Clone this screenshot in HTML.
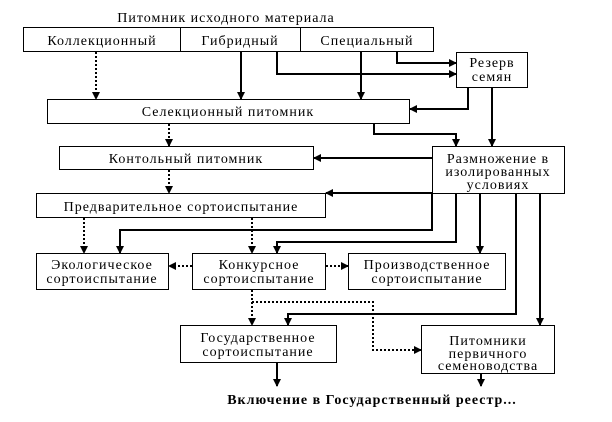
<!DOCTYPE html><html><head><meta charset="utf-8"><style>body{margin:0;background:#fff}svg{display:block}text{font-family:"Liberation Serif",serif;font-size:14px;letter-spacing:1px;fill:#000}</style></head><body>
<svg width="612" height="422" viewBox="0 0 612 422" xmlns="http://www.w3.org/2000/svg">
<defs><marker id="a" markerWidth="8" markerHeight="8" refX="7" refY="4" orient="auto" markerUnits="userSpaceOnUse"><path d="M0,0L8,4L0,8z" fill="#000"/></marker></defs>
<g fill="#fff" stroke="#000" stroke-width="1">
<rect x="23.5" y="27.5" width="410" height="24"/><line x1="180.5" y1="27" x2="180.5" y2="51"/><line x1="300.5" y1="27" x2="300.5" y2="51"/>
<rect x="456.5" y="52.5" width="71" height="35"/>
<rect x="47.5" y="99.5" width="362" height="24"/>
<rect x="59.5" y="146.5" width="254" height="23"/>
<rect x="432.5" y="146.5" width="132" height="47"/>
<rect x="36.5" y="193.5" width="289" height="24"/>
<rect x="36.5" y="253.5" width="132" height="36"/>
<rect x="192.5" y="253.5" width="133" height="36"/>
<rect x="348.5" y="253.5" width="157" height="36"/>
<rect x="180.5" y="325.5" width="156" height="37"/>
<rect x="421.5" y="325.5" width="133" height="48"/>
</g>
<g fill="none" stroke="#000" stroke-width="2" marker-end="url(#a)">
<polyline points="241,52 241,99"/>
<polyline points="361,52 361,99"/>
<polyline points="277,52 277,74 456,74"/>
<polyline points="397,52 397,63 456,63"/>
<polyline points="468,88 468,109 410,109"/>
<polyline points="492,88 492,146"/>
<polyline points="374,124 374,134 456,134 456,146"/>
<polyline points="432,158 314,158"/>
<polyline points="432,193 326,193"/>
<polyline points="432,194 432,230 120,230 120,253"/>
<polyline points="456,194 456,242 277,242 277,253"/>
<polyline points="480,194 480,253"/>
<polyline points="516,194 516,314 288,314 288,325"/>
<polyline points="540,194 540,325"/>
<polyline points="277,363 277,386"/>
<polyline points="481,374 481,386"/>
</g>
<g fill="none" stroke="#000" stroke-width="2" stroke-dasharray="2,2" marker-end="url(#a)">
<polyline points="96,52 96,99"/>
<polyline points="169,124 169,146"/>
<polyline points="169,170 169,193"/>
<polyline points="84,218 84,253"/>
<polyline points="252,218 252,253"/>
<polyline points="192,266 169,266"/>
<polyline points="326,266 348,266"/>
<polyline points="252,290 252,325"/>
<polyline points="252,302 373,302 373,350 421,350"/>
</g>
<g text-anchor="middle">
<text x="226" y="22">Питомник исходного материала</text>
<text x="102" y="45">Коллекционный</text>
<text x="240" y="45">Гибридный</text>
<text x="367" y="45">Специальный</text>
<text x="492" y="67">Резерв</text>
<text x="492" y="81">семян</text>
<text x="228" y="116">Селекционный питомник</text>
<text x="186" y="163">Контольный питомник</text>
<text x="498" y="163">Размножение в</text>
<text x="498" y="176">изолированных</text>
<text x="498" y="189">условиях</text>
<text x="181" y="211">Предварительное сортоиспытание</text>
<text x="102" y="269">Экологическое</text>
<text x="102" y="283">сортоиспытание</text>
<text x="259" y="269">Конкурсное</text>
<text x="259" y="283">сортоиспытание</text>
<text x="427" y="269">Производственное</text>
<text x="427" y="283">сортоиспытание</text>
<text x="258" y="342">Государственное</text>
<text x="258" y="356">сортоиспытание</text>
<text x="488" y="345">Питомники</text>
<text x="488" y="358">первичного</text>
<text x="488" y="370">семеноводства</text>
<text x="372" y="404" font-weight="bold">Включение в Государственный реестр...</text>
</g>
</svg></body></html>
